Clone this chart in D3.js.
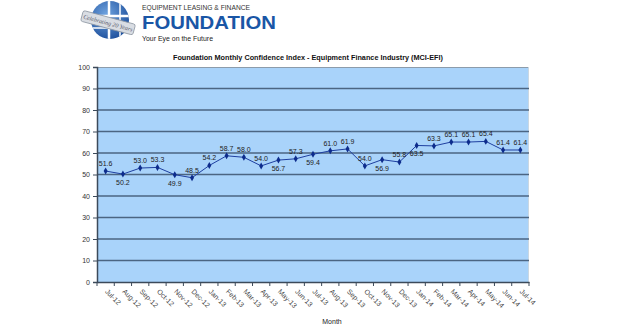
<!DOCTYPE html>
<html><head><meta charset="utf-8">
<script src="https://cdn.jsdelivr.net/npm/d3@7"></script>
<style>html,body{margin:0;padding:0;background:#fff;}svg{display:block;font-family:"Liberation Sans",Arial,sans-serif;}</style>
</head><body><svg id="c" width="620" height="328"></svg>
<script>
const months = ["Jul-12","Aug-12","Sep-12","Oct-12","Nov-12","Dec-12","Jan-13","Feb-13","Mar-13","Apr-13","May-13","Jun-13","Jul-13","Aug-13","Sep-13","Oct-13","Nov-13","Dec-13","Jan-14","Feb-14","Mar-14","Apr-14","May-14","Jun-14","Jul-14"];
const mciValues = [51.6,50.2,53.0,53.3,49.9,48.5,54.2,58.7,58.0,54.0,56.7,57.3,59.4,61.0,61.9,54.0,56.9,55.8,63.5,63.3,65.1,65.1,65.4,61.4,61.4];
const labelBelow = [false,true,false,false,true,false,false,false,false,false,true,false,true,false,false,false,true,false,true,false,false,false,false,false,false];
const yTicks = [0,10,20,30,40,50,60,70,80,90,100];
const chartTitle = "Foundation Monthly Confidence Index - Equipment Finance Industry (MCI-EFI)";
const xTitle = "Month";

const svg = d3.select("#c");
const L = 97, R = 529, T = 67, B = 282;
const x = d3.scaleBand().domain(months).range([L, R]);
const y = d3.scaleLinear().domain([0, 100]).range([B, T]);

// Logo
const g = svg.append("g");
const defs = svg.append("defs");
const rg = defs.append("radialGradient").attr("id","gl").attr("cx","40%").attr("cy","35%").attr("r","70%");
rg.append("stop").attr("offset","0%").attr("stop-color","#6fa3df");
rg.append("stop").attr("offset","100%").attr("stop-color","#1d4f9c");
const cx = 110, cy = 20, r = 19;
defs.append("clipPath").attr("id","gc").append("circle").attr("cx",cx).attr("cy",cy).attr("r",r);
g.append("circle").attr("cx",cx).attr("cy",cy).attr("r",r).attr("fill","url(#gl)");
const gl = g.append("g").attr("clip-path","url(#gc)").attr("stroke","#fff").attr("stroke-width",2.5);
gl.append("line").attr("x1",cx-1).attr("x2",cx-1).attr("y1",0).attr("y2",45);
gl.append("line").attr("x1",cx-r).attr("x2",cx+r).attr("y1",cy-4).attr("y2",cy-4);
gl.append("line").attr("x1",cx+10).attr("x2",cx+10).attr("y1",0).attr("y2",45).attr("stroke-width",1.5);
gl.append("line").attr("x1",cx-r).attr("x2",cx+r).attr("y1",cy+8).attr("y2",cy+8).attr("stroke-width",1.5);
const rib = g.append("g").attr("transform",`translate(${cx-1},${cy+3}) rotate(15)`);
rib.append("rect").attr("x",-28).attr("y",-5.5).attr("width",54).attr("height",11).attr("rx",2)
  .attr("fill","#d9dde3").attr("stroke","#8f98a3").attr("stroke-width",0.8);
rib.append("text").attr("x",-1).attr("y",2.3).attr("text-anchor","middle").attr("font-size",6)
  .attr("font-family","Liberation Serif, serif").attr("font-style","italic").attr("fill","#556")
  .text("Celebrating 20 Years");
g.append("text").attr("x",142).attr("y",10).attr("font-size",7.5).attr("fill","#333")
  .attr("textLength",108).attr("lengthAdjust","spacingAndGlyphs").text("EQUIPMENT LEASING & FINANCE");
g.append("text").attr("x",142).attr("y",29).attr("font-size",19).attr("font-weight","bold").attr("fill","#1a56a6")
  .attr("textLength",134).attr("lengthAdjust","spacingAndGlyphs").text("FOUNDATION");
g.append("text").attr("x",142).attr("y",40.5).attr("font-size",8).attr("fill","#222")
  .attr("textLength",71).attr("lengthAdjust","spacingAndGlyphs").text("Your Eye on the Future");

// Title
svg.append("text").attr("x",308).attr("y",60).attr("text-anchor","middle").attr("font-size",7.5)
  .attr("font-weight","bold").attr("fill","#111").attr("textLength",270).attr("lengthAdjust","spacingAndGlyphs")
  .text(chartTitle);

// plot background
svg.append("rect").attr("x",L).attr("y",T).attr("width",R-L).attr("height",B-T).attr("fill","#a9d3fa");
svg.append("line").attr("x1",L).attr("x2",R).attr("y1",T+0.5).attr("y2",T+0.5).attr("stroke","#8c9cab").attr("stroke-width",1);
svg.append("line").attr("x1",R-0.5).attr("x2",R-0.5).attr("y1",T).attr("y2",B).attr("stroke","#c9d7e3").attr("stroke-width",1);

// gridlines
svg.append("g").selectAll("line").data(yTicks.filter(d=>d>0 && d<100)).join("line")
  .attr("x1",L).attr("x2",R).attr("y1",d=>y(d)).attr("y2",d=>y(d))
  .attr("stroke","#4b6582").attr("stroke-width",1.6);

// y axis
const ya = svg.append("g").attr("transform",`translate(${L},0)`)
  .call(d3.axisLeft(y).tickValues(yTicks).tickSize(4).tickPadding(3));
ya.select(".domain").attr("stroke","#3c4a5a").attr("stroke-width",1.5);
ya.selectAll(".tick line").attr("stroke","#3c4a5a");
ya.selectAll("text").attr("font-size",7).attr("fill","#333").attr("font-family","Liberation Sans, Arial, sans-serif");

// x axis
const xa = svg.append("g").attr("transform",`translate(0,${B})`)
  .call(d3.axisBottom(x).tickSize(0).tickPadding(0));
xa.select(".domain").attr("stroke","#3c4a5a").attr("stroke-width",1.5);
xa.selectAll(".tick text").attr("font-size",7).attr("fill","#444").attr("font-family","Liberation Sans, Arial, sans-serif")
  .attr("text-anchor","start").attr("dy",0).attr("transform","translate(-1,10) rotate(45)");
// tick marks at band boundaries
const bounds = months.map(m => x(m)).concat([R]);
svg.append("g").selectAll("line").data(bounds).join("line")
  .attr("x1",d=>d).attr("x2",d=>d).attr("y1",B).attr("y2",B+4).attr("stroke","#3c4a5a").attr("stroke-width",1);

svg.append("text").attr("x",332).attr("y",324).attr("text-anchor","middle").attr("font-size",7)
  .attr("fill","#222").text(xTitle);

// line
const cxp = m => x(m) + x.bandwidth()/2;
const line = d3.line().x((d,i)=>cxp(months[i])).y(d=>y(d));
svg.append("path").datum(mciValues).attr("d",line).attr("fill","none").attr("stroke","#1e3fa0").attr("stroke-width",1);
svg.append("g").selectAll("path").data(mciValues).join("path")
  .attr("d",d3.symbol().type(d3.symbolDiamond).size(14))
  .attr("transform",(d,i)=>`translate(${cxp(months[i])},${y(d)})`).attr("fill","#0d2c8c");

// labels
svg.append("g").selectAll("text").data(mciValues).join("text")
  .attr("x",(d,i)=>cxp(months[i]))
  .attr("y",(d,i)=> labelBelow[i] ? y(d)+11 : y(d)-5)
  .attr("text-anchor","middle").attr("font-size",7).attr("fill","#222")
  .text(d=>d.toFixed(1));
</script></body></html>
